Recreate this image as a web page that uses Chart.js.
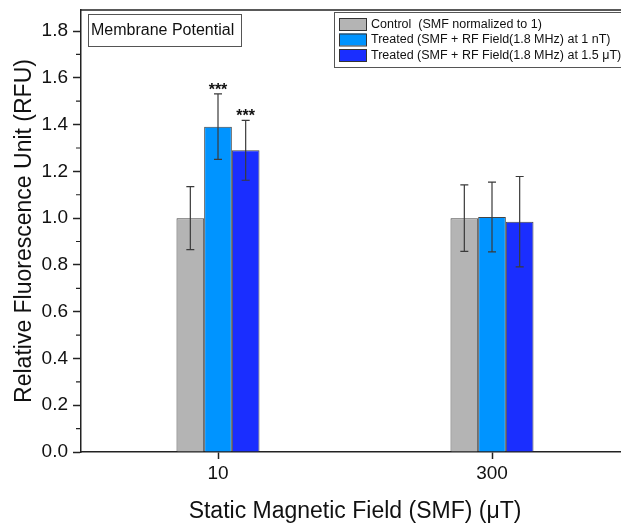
<!DOCTYPE html>
<html>
<head>
<meta charset="utf-8">
<script src="https://cdn.jsdelivr.net/npm/chart.js@4/dist/chart.umd.min.js"></script>
<style>
  html, body { margin: 0; padding: 0; background: #fff; overflow: hidden; }
  #wrap { width: 640px; height: 524px; }
</style>
</head>
<body>
<div id="wrap"><canvas id="chart" width="640" height="524"></canvas></div>
<script>
// data
var categories = ['10', '300'];
var seriesLabels = [
    'Control  (SMF normalized to 1)',
    'Treated (SMF + RF Field(1.8 MHz) at 1 nT)',
    'Treated (SMF + RF Field(1.8 MHz) at 1.5 \u03bcT)'
];
var controlValues  = [1.0, 1.0];
var controlErrors  = [0.135, 0.142];
var treated1Values = [1.391, 1.005];
var treated1Errors = [0.14, 0.149];
var treated2Values = [1.29, 0.985];
var treated2Errors = [0.128, 0.193];
var controlStars  = ['', ''];
var treated1Stars = ['***', ''];
var treated2Stars = ['***', ''];
var yMax = 1.89;
var yTicks = [0, 0.2, 0.4, 0.6, 0.8, 1.0, 1.2, 1.4, 1.6, 1.8];
var yMinorTicks = [0.1, 0.3, 0.5, 0.7, 0.9, 1.1, 1.3, 1.5, 1.7];
var boxTitle = 'Membrane Potential';
var xTitle = 'Static Magnetic Field (SMF) (\u03bcT)';
var yTitle = 'Relative Fluorescence Unit (RFU)';

var colors = ['#b4b4b4', '#0094ff', '#1a2eff'];
var errors = [controlErrors, treated1Errors, treated2Errors];
var stars = [controlStars, treated1Stars, treated2Stars];
var FONT = '"Liberation Sans", Arial, sans-serif';

var extras = {
    id: 'extras',
    afterDatasetsDraw: function(chart) {
        var ctx = chart.ctx;
        var y = chart.scales.y;
        var area = chart.chartArea;

        ctx.save();
        // error bars + significance marks
        chart.data.datasets.forEach(function(ds, i) {
            var meta = chart.getDatasetMeta(i);
            meta.data.forEach(function(bar, j) {
                var v = ds.data[j], e = errors[i][j];
                var top = y.getPixelForValue(v + e);
                var bot = y.getPixelForValue(v - e);
                ctx.strokeStyle = '#3a3a3a';
                ctx.lineWidth = 1.2;
                ctx.beginPath();
                ctx.moveTo(bar.x, top); ctx.lineTo(bar.x, bot);
                ctx.moveTo(bar.x - 4, top); ctx.lineTo(bar.x + 4, top);
                ctx.moveTo(bar.x - 4, bot); ctx.lineTo(bar.x + 4, bot);
                ctx.stroke();
                if (stars[i][j]) {
                    ctx.fillStyle = '#111';
                    ctx.font = 'bold 16px ' + FONT;
                    ctx.textAlign = 'center';
                    ctx.textBaseline = 'alphabetic';
                    ctx.fillText(stars[i][j], bar.x, top + 1);
                }
            });
        });

        // frame top line
        ctx.strokeStyle = '#222';
        ctx.lineWidth = 1.5;
        ctx.beginPath();
        ctx.moveTo(area.left, area.top);
        ctx.lineTo(area.right, area.top);
        ctx.stroke();

        // minor y ticks
        ctx.lineWidth = 1.2;
        ctx.beginPath();
        yMinorTicks.forEach(function(v) {
            var py = y.getPixelForValue(v);
            ctx.moveTo(area.left - 5, py);
            ctx.lineTo(area.left, py);
        });
        ctx.stroke();

        // label box
        ctx.lineWidth = 1;
        ctx.strokeStyle = '#555';
        ctx.strokeRect(88.5, 14.5, 153, 32);
        ctx.fillStyle = '#111';
        ctx.font = '16px ' + FONT;
        ctx.textAlign = 'left';
        ctx.textBaseline = 'middle';
        ctx.fillText(boxTitle, 91, 31);

        // legend
        ctx.fillStyle = '#fff';
        ctx.fillRect(334, 12.5, 300, 55);
        ctx.strokeStyle = '#555';
        ctx.strokeRect(334.5, 12.5, 300, 55);
        ctx.font = '12.5px ' + FONT;
        seriesLabels.forEach(function(label, i) {
            var ry = 18 + i * 15.5;
            ctx.fillStyle = colors[i];
            ctx.fillRect(339, ry, 27, 12);
            ctx.strokeStyle = '#333';
            ctx.strokeRect(339.5, ry + 0.5, 27, 12);
            ctx.fillStyle = '#111';
            ctx.fillText(label, 371, ry + 6.5);
        });

        // x axis title
        ctx.font = '23px ' + FONT;
        ctx.textAlign = 'center';
        ctx.textBaseline = 'alphabetic';
        ctx.fillStyle = '#111';
        ctx.fillText(xTitle, (area.left + area.right) / 2, 518);
        ctx.restore();
    }
};

new Chart(document.getElementById('chart').getContext('2d'), {
    type: 'bar',
    data: {
        labels: categories,
        datasets: [
            { label: seriesLabels[0], data: controlValues, backgroundColor: colors[0] },
            { label: seriesLabels[1], data: treated1Values, backgroundColor: colors[1] },
            { label: seriesLabels[2], data: treated2Values, backgroundColor: colors[2] }
        ].map(function(d) {
            d.borderColor = '#444';
            d.borderWidth = 1;
            d.categoryPercentage = 0.303;
            d.barPercentage = 1.0;
            return d;
        })
    },
    options: {
        responsive: false,
        animation: false,
        layout: { padding: { top: 10, right: 11, left: 0, bottom: 0 } },
        plugins: { legend: { display: false }, tooltip: { enabled: false } },
        scales: {
            x: {
                afterFit: function(s) { s.height = 72; },
                grid: { offset: false, drawOnChartArea: false, tickLength: 7, tickColor: '#222', tickWidth: 1.5 },
                border: { color: '#222', width: 1.5 },
                ticks: { color: '#111', font: { family: FONT, size: 19 }, padding: 3 }
            },
            y: {
                min: 0,
                max: yMax,
                afterFit: function(s) { s.width = 81; s.paddingTop = 0; s.paddingBottom = 0; },
                afterBuildTicks: function(s) {
                    s.ticks = yTicks.map(function(v) { return { value: v }; });
                },
                grid: { drawOnChartArea: false, tickLength: 8, tickColor: '#222', tickWidth: 1.5 },
                border: { color: '#222', width: 1.5 },
                ticks: {
                    color: '#111',
                    font: { family: FONT, size: 19 },
                    padding: 5,
                    autoSkip: false,
                    callback: function(v) { return v.toFixed(1); }
                },
                title: {
                    display: true,
                    text: yTitle,
                    color: '#111',
                    font: { family: FONT, size: 23 },
                    padding: { top: 11, bottom: 0 }
                }
            }
        }
    },
    plugins: [extras]
});
</script>
</body>
</html>
